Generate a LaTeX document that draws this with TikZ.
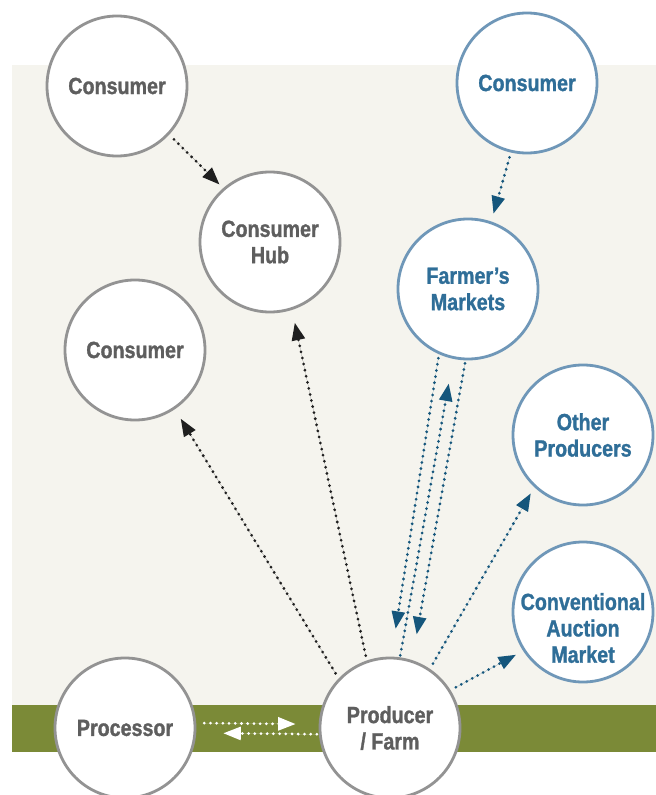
\documentclass[tikz,border=0pt]{standalone}
\usepackage{fontspec}
\setmainfont{Liberation Sans}[FakeStretch=0.84, BoldFeatures={FakeBold=1.2}]
\usetikzlibrary{arrows.meta}

\definecolor{paper}{HTML}{F5F4EE}
\definecolor{grass}{HTML}{7B8A37}
\definecolor{ringgray}{HTML}{939393}
\definecolor{textgray}{HTML}{5E5E5E}
\definecolor{ringblue}{HTML}{6F97B8}
\definecolor{textblue}{HTML}{2F6E98}
\definecolor{arrowblue}{HTML}{15567C}

\tikzset{
  placefont/.style={align=center, font=\bfseries\fontsize{20}{22.5}\selectfont},
  place/.style={circle, fill=white, line width=2.4pt, minimum size=4.2cm, inner sep=0pt, placefont},
  grayplace/.style={place, draw=ringgray, text=textgray},
  blueplace/.style={place, draw=ringblue, text=textblue},
  flow/.style={line width=2.6pt, line cap=round, dash pattern=on 0pt off 5.3pt,
    -{Triangle[length=15pt,width=11pt]}},
  blackflow/.style={flow, draw=black!88, fill=black!88},
  blueflow/.style={flow, draw=arrowblue, fill=arrowblue},
  whiteflow/.style={flow, draw=white, fill=white},
}

\begin{document}
\begin{tikzpicture}[x=0.03cm, y=-0.03cm]
  \useasboundingbox (0,0) rectangle (656,795);
  \clip (0,0) rectangle (656,795);

  % ground
  \fill[paper] (12,65) rectangle (656,705);
  \fill[grass] (12,705) rectangle (656,752);

  % places
  \node[grayplace] (cons1) at (117,86) {Consumer};
  \node[grayplace] (hub) at (270,242) {Consumer\\Hub};
  \node[grayplace] (cons2) at (135,350) {Consumer};
  \node[blueplace] (cons3) at (527,83) {Consumer};
  \node[blueplace] (market) at (468,289) {Farmer’s\\Markets};
  \node[blueplace] (others) at (583,435) {Other\\Producers};
  \node[blueplace, label={[placefont, text=textblue, yshift=-0.48cm]center:Conventional\\Auction\\Market}]
    (auction) at (583,612) {};
  \node[grayplace] (proc) at (125,728) {Processor};
  \node[grayplace] (farm) at (390,728) {Producer\\/ Farm};

  % flows
  \draw[blackflow, shorten <=0.2cm, shorten >=0.15cm] (cons1.-43) -- (hub.131);
  \draw[blackflow, shorten <=0.15cm, shorten >=0.39cm] (farm.109) -- (hub.-72);
  \draw[blackflow, shorten <=0.18cm, shorten >=0.33cm] (farm.136) -- (cons2.-56);

  \draw[blueflow, shorten <=0.15cm, shorten >=0.24cm] (cons3.-103) -- (market.71);
  \draw[blueflow, shorten <=0.12cm, shorten >=0.84cm] (market.-114) -- (farm.89);
  \draw[blueflow, shorten <=0.06cm, shorten >=0.75cm] (farm.82) -- (market.-102);
  \draw[blueflow, shorten <=0.09cm, shorten >=0.78cm] (market.-92) -- (farm.72);
  \draw[blueflow, shorten <=0.18cm, shorten >=0.21cm] (farm.56) -- (others.-133);
  \draw[blueflow, shorten <=0.18cm, shorten >=0.24cm] (farm.32) -- (auction.-147);

  \draw[whiteflow, shorten <=0.24cm, shorten >=0.69cm] (proc.4) -- (farm.177);
  \draw[whiteflow, shorten <=0.06cm, shorten >=0.81cm] (farm.185) -- (proc.-4);
\end{tikzpicture}
\end{document}
